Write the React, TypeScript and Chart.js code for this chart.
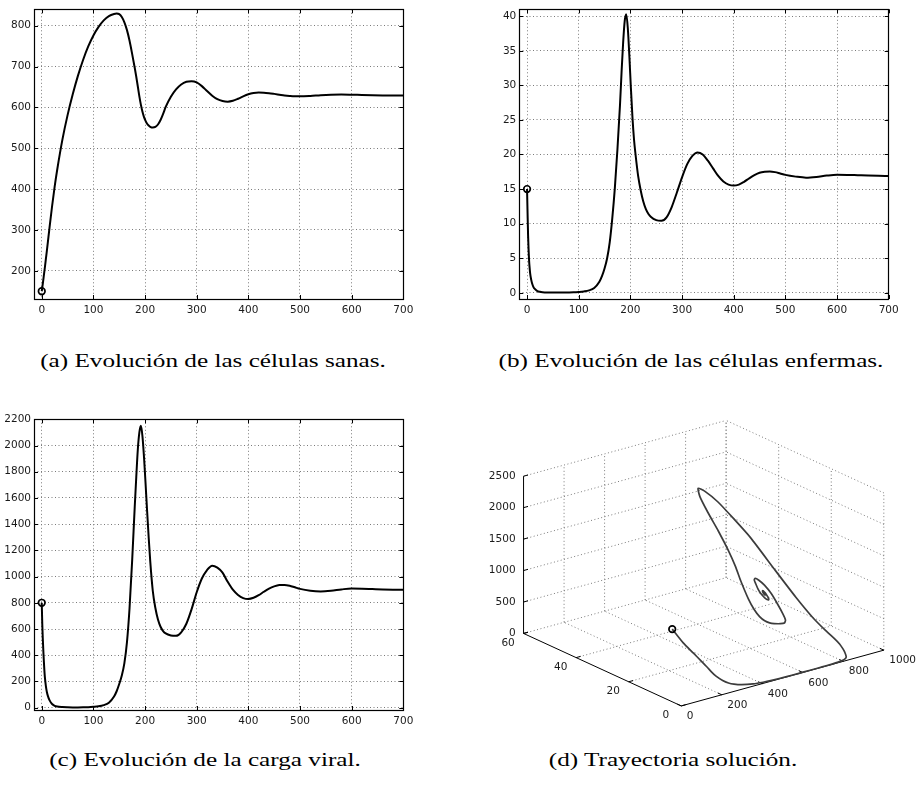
import React, { useEffect, useRef } from "react";
import { Chart, registerables } from "chart.js";

Chart.register(...registerables);

// ---------------- data ----------------
const TIME = [0,1,2,3,4,5,6,8,10,12,15,20,25,30,40,50,60,70,80,90,100,110,120,130,140,145,150,155,160,165,170,175,180,183,186,189,192,195,198,201,204,207,210,215,220,225,230,235,240,250,260,270,280,290,300,310,320,330,340,350,360,370,380,390,400,410,420,430,440,450,460,470,480,490,500,520,540,560,580,600,620,640,660,680,700];

const SANAS = [150,159,168,178,188,198,208,229,250,272,305,358,406,448,521,581,632,677,716,749,776,797,813,823.5,828.5,829.5,828,821,808,789,763,731,697,675,651,627,606,589,576,567,560,555.5,552.5,550.5,552,558,569,584,601,626,644,656,662.5,664,661,652,640,628.5,620,615.5,614,616,621,627,632,635,636.2,636,634.8,633,631,629,627.7,627,627,628,629.8,631,631.5,631,630.2,629.6,629.3,629.2,629.2];

const ENFERMAS = [15,11.5,8.3,6.2,4.6,3.6,2.8,1.9,1.3,0.9,0.55,0.25,0.14,0.09,0.05,0.04,0.04,0.04,0.05,0.07,0.12,0.2,0.35,0.7,1.6,2.4,3.5,5.0,7.3,10.8,15.2,20.8,27.3,32,36.2,39.3,40.3,38.3,34.3,29.6,25.4,22.2,20.0,16.9,14.8,13.2,12.1,11.4,10.95,10.5,10.4,10.9,12.4,14.5,16.7,18.6,19.8,20.3,20.0,19.1,18.0,16.9,16.1,15.65,15.5,15.65,16.05,16.55,17.0,17.35,17.5,17.55,17.45,17.25,17.05,16.8,16.65,16.75,16.95,17.07,17.05,17.0,16.95,16.92,16.9];

const CARGA = [800,640,530,440,360,290,235,165,118,88,57,28,14,8,4,2.5,2,2,2.5,3.5,6,10,19,38,85,125,180,245,340,500,760,1120,1530,1760,1970,2100,2150,2070,1910,1710,1500,1300,1120,890,760,672,617,584,566,551,548,575,640,750,880,985,1050,1083,1068,1030,960,900,860,836,829,838,858,884,908,925,935,936,930,918,906,892,887,892,902,909,908,905,902,900,899];

const X_TICKS = [0,100,200,300,400,500,600,700];
const Y_TICKS_A = [200,300,400,500,600,700,800];
const Y_TICKS_B = [0,5,10,15,20,25,30,35,40];
const Y_TICKS_C = [0,200,400,600,800,1000,1200,1400,1600,1800,2000,2200];

const S3_TICKS = [0,200,400,600,800,1000];
const I3_TICKS = [0,20,40,60];
const V3_TICKS = [0,500,1000,1500,2000,2500];

const CAPTIONS = [
  "(a) Evolución de las células sanas.",
  "(b) Evolución de las células enfermas.",
  "(c) Evolución de la carga viral.",
  "(d) Trayectoria solución.",
];

// ---------------- styles / layout ----------------
const TICK_FONT_FAMILY = "'DejaVu Sans', sans-serif";
const TICK_FONT_SIZE = 10.5;
const TICK_COLOR = "#1a1a1a";
const GRID_COLOR = "#7a7a7a";
const GRID_DASH = [1, 2.5];

function boxPlugin(xt: number[], yt: number[]) {
  return {
    id: "matlabBox",
    afterDatasetsDraw(chart: any) {
      const { ctx, chartArea: a, scales } = chart;
      ctx.save();
      ctx.strokeStyle = "#000";
      ctx.lineWidth = 1;
      ctx.beginPath();
      for (const v of xt) {
        const px = Math.round(scales.x.getPixelForValue(v)) + 0.5;
        ctx.moveTo(px, a.bottom);
        ctx.lineTo(px, a.bottom - 4);
        ctx.moveTo(px, a.top);
        ctx.lineTo(px, a.top + 4);
      }
      for (const v of yt) {
        const py = Math.round(scales.y.getPixelForValue(v)) + 0.5;
        ctx.moveTo(a.left, py);
        ctx.lineTo(a.left + 4, py);
        ctx.moveTo(a.right, py);
        ctx.lineTo(a.right - 4, py);
      }
      ctx.stroke();
      ctx.lineWidth = 1.2;
      ctx.strokeRect(Math.round(a.left) + 0.5, Math.round(a.top) + 0.5, Math.round(a.right - a.left), Math.round(a.bottom - a.top));
      ctx.restore();
    },
  };
}

type PanelProps = {
  values: number[];
  yMin: number;
  yMax: number;
  yTicks: number[];
  left: number;
  top: number;
  width: number;
  height: number;
  area: { left: number; top: number; right: number; bottom: number };
};

function LinePanel(p: PanelProps) {
  const ref = useRef<HTMLCanvasElement>(null);
  useEffect(() => {
    const xAxisH = 20;
    const chart = new Chart(ref.current as HTMLCanvasElement, {
      type: "line",
      data: {
        datasets: [
          {
            data: TIME.map((t, i) => ({ x: t, y: p.values[i] })),
            borderColor: "#000",
            borderWidth: 2,
            pointRadius: 0,
            cubicInterpolationMode: "monotone",
            fill: false,
          },
          {
            data: [{ x: TIME[0], y: p.values[0] }],
            showLine: false,
            pointRadius: 3.3,
            pointBorderWidth: 1.7,
            pointBorderColor: "#000",
            pointBackgroundColor: "rgba(255,255,255,0)",
          },
        ],
      } as any,
      options: {
        animation: false,
        responsive: false,
        maintainAspectRatio: false,
        devicePixelRatio: 1,
        layout: {
          padding: {
            left: 0,
            top: p.area.top,
            right: p.width - p.area.right,
            bottom: p.height - p.area.bottom - xAxisH,
          },
        },
        plugins: { legend: { display: false }, tooltip: { enabled: false } },
        scales: {
          x: {
            type: "linear",
            min: -15,
            max: 700,
            afterBuildTicks: (ax: any) => {
              ax.ticks = X_TICKS.map((v) => ({ value: v }));
            },
            afterFit: (s: any) => {
              s.height = xAxisH;
            },
            grid: { color: GRID_COLOR, lineWidth: 1, drawTicks: false },
            border: { display: false, dash: GRID_DASH },
            ticks: {
              color: TICK_COLOR,
              font: { family: TICK_FONT_FAMILY, size: TICK_FONT_SIZE },
              padding: 5,
              maxRotation: 0,
              autoSkip: false,
              callback: (v: any) => String(v),
            },
          },
          y: {
            type: "linear",
            min: p.yMin,
            max: p.yMax,
            afterBuildTicks: (ax: any) => {
              ax.ticks = p.yTicks.map((v) => ({ value: v }));
            },
            afterFit: (s: any) => {
              s.width = p.area.left;
            },
            grid: { color: GRID_COLOR, lineWidth: 1, drawTicks: false },
            border: { display: false, dash: GRID_DASH },
            ticks: {
              color: TICK_COLOR,
              font: { family: TICK_FONT_FAMILY, size: TICK_FONT_SIZE },
              padding: 3,
              autoSkip: false,
              callback: (v: any) => String(v),
            },
          },
        },
      } as any,
      plugins: [boxPlugin(X_TICKS, p.yTicks)],
    });
    return () => chart.destroy();
  }, []);
  return (
    <div style={{ position: "absolute", left: p.left, top: p.top, width: p.width, height: p.height }}>
      <canvas ref={ref} width={p.width} height={p.height} style={{ width: p.width, height: p.height, display: "block" }} />
    </div>
  );
}

// 3D projection (screen-space axis vectors of the MATLAB-style view)
const VIEW = { ox: 220, oy: 321, ex: [207.7, -57.7], ey: [-161.7, -75], ez: [0, -162.7] };
const S_MAX = S3_TICKS[S3_TICKS.length - 1];
const I_MAX = I3_TICKS[I3_TICKS.length - 1];
const V_MAX = V3_TICKS[V3_TICKS.length - 1];

function project(s: number, i: number, v: number) {
  const a = s / S_MAX, b = i / I_MAX, c = v / V_MAX;
  return {
    x: VIEW.ox + a * VIEW.ex[0] + b * VIEW.ey[0] + c * VIEW.ez[0],
    y: VIEW.oy + a * VIEW.ex[1] + b * VIEW.ey[1] + c * VIEW.ez[1],
  };
}

function seg(a: number[], b: number[], color: string, dash: number[], width: number, order: number) {
  return {
    data: [project(a[0], a[1], a[2]), project(b[0], b[1], b[2])],
    showLine: true,
    pointRadius: 0,
    borderColor: color,
    borderWidth: width,
    borderDash: dash,
    order,
  };
}

function Panel3D({ left, top, width, height }: { left: number; top: number; width: number; height: number }) {
  const ref = useRef<HTMLCanvasElement>(null);
  useEffect(() => {
    const grid: any[] = [];
    // floor z = 0
    for (const s of S3_TICKS) if (s !== 0) grid.push(seg([s, 0, 0], [s, I_MAX, 0], GRID_COLOR, GRID_DASH, 1, 3));
    for (const i of I3_TICKS) if (i !== 0) grid.push(seg([0, i, 0], [S_MAX, i, 0], GRID_COLOR, GRID_DASH, 1, 3));
    // back wall i = I_MAX
    for (const s of S3_TICKS) if (s !== 0) grid.push(seg([s, I_MAX, 0], [s, I_MAX, V_MAX], GRID_COLOR, GRID_DASH, 1, 3));
    for (const v of V3_TICKS) if (v !== 0) grid.push(seg([0, I_MAX, v], [S_MAX, I_MAX, v], GRID_COLOR, GRID_DASH, 1, 3));
    // right wall s = S_MAX
    for (const i of I3_TICKS) grid.push(seg([S_MAX, i, 0], [S_MAX, i, V_MAX], GRID_COLOR, GRID_DASH, 1, 3));
    for (const v of V3_TICKS) if (v !== 0) grid.push(seg([S_MAX, 0, v], [S_MAX, I_MAX, v], GRID_COLOR, GRID_DASH, 1, 3));
    // axes
    const axes: any[] = [
      seg([0, 0, 0], [S_MAX, 0, 0], "#000", [], 1, 2),
      seg([0, 0, 0], [0, I_MAX, 0], "#000", [], 1, 2),
      seg([0, I_MAX, 0], [0, I_MAX, V_MAX], "#000", [], 1, 2),
    ];
    for (const s of S3_TICKS) axes.push(seg([s, 0, 0], [s, I_MAX * 0.025, 0], "#000", [], 1, 2));
    for (const i of I3_TICKS) axes.push(seg([0, i, 0], [S_MAX * 0.022, i, 0], "#000", [], 1, 2));
    for (const v of V3_TICKS) axes.push(seg([0, I_MAX, v], [S_MAX * 0.022, I_MAX, v], "#000", [], 1, 2));

    const traj = {
      data: TIME.map((_, k) => project(SANAS[k], ENFERMAS[k], CARGA[k])),
      showLine: true,
      pointRadius: 0,
      borderColor: "#3c3c3c",
      borderWidth: 1.7,
      tension: 0.2,
      order: 1,
    };
    const start = {
      data: [project(SANAS[0], ENFERMAS[0], CARGA[0])],
      showLine: false,
      pointRadius: 3.3,
      pointBorderWidth: 1.7,
      pointBorderColor: "#000",
      pointBackgroundColor: "rgba(255,255,255,0)",
      order: 0,
    };

    const labels3d = {
      id: "labels3d",
      afterDraw(chart: any) {
        const { ctx, scales } = chart;
        const px = (p: { x: number; y: number }) => ({ x: scales.x.getPixelForValue(p.x), y: scales.y.getPixelForValue(p.y) });
        ctx.save();
        ctx.fillStyle = TICK_COLOR;
        ctx.font = `${TICK_FONT_SIZE}px ${TICK_FONT_FAMILY}`;
        ctx.textBaseline = "middle";
        ctx.textAlign = "right";
        for (const v of V3_TICKS) {
          const q = px(project(0, I_MAX, v));
          ctx.fillText(String(v), q.x - 8, q.y);
        }
        ctx.textAlign = "center";
        for (const i of I3_TICKS) {
          const q = px(project(0, i, 0));
          ctx.fillText(String(i), q.x - 15.5, q.y + 9.5);
        }
        ctx.textAlign = "left";
        for (const s of S3_TICKS) {
          const q = px(project(s, 0, 0));
          ctx.fillText(String(s), q.x + 5.5, q.y + 10.3);
        }
        ctx.restore();
      },
    };

    const chart = new Chart(ref.current as HTMLCanvasElement, {
      type: "scatter",
      data: { datasets: [start, traj, ...axes, ...grid] } as any,
      options: {
        animation: false,
        responsive: false,
        maintainAspectRatio: false,
        devicePixelRatio: 1,
        layout: { padding: 0 },
        plugins: { legend: { display: false }, tooltip: { enabled: false } },
        scales: {
          x: { type: "linear", min: 0, max: width, display: false },
          y: { type: "linear", min: 0, max: height, reverse: true, display: false },
        },
      } as any,
      plugins: [labels3d],
    });
    return () => chart.destroy();
  }, []);
  return (
    <div style={{ position: "absolute", left, top, width, height }}>
      <canvas ref={ref} width={width} height={height} style={{ width, height, display: "block" }} />
    </div>
  );
}

function Caption({ text, cx, cy }: { text: string; cx: number; cy: number }) {
  return (
    <div
      style={{
        position: "absolute",
        left: cx,
        top: cy - 11,
        height: 22,
        lineHeight: "22px",
        transform: "translateX(-50%) scaleX(1.4)",
        transformOrigin: "50% 50%",
        fontFamily: "'Liberation Serif', 'DejaVu Serif', serif",
        fontSize: 18,
        color: "#000",
        whiteSpace: "nowrap",
      }}
    >
      {text}
    </div>
  );
}

export default function App() {
  return (
    <div style={{ position: "absolute", left: 0, top: 0, width: 922, height: 790, background: "#fff", overflow: "hidden" }}>
      <LinePanel values={SANAS} yMin={131} yMax={840} yTicks={Y_TICKS_A} left={0} top={0} width={461} height={330}
        area={{ left: 34, top: 8.3, right: 403.3, bottom: 299 }} />
      <LinePanel values={ENFERMAS} yMin={-0.9} yMax={41} yTicks={Y_TICKS_B} left={461} top={0} width={461} height={330}
        area={{ left: 58.3, top: 8.3, right: 427.7, bottom: 299 }} />
      <LinePanel values={CARGA} yMin={-18} yMax={2200} yTicks={Y_TICKS_C} left={0} top={390} width={461} height={340}
        area={{ left: 34, top: 29.3, right: 403.3, bottom: 320 }} />
      <Panel3D left={461} top={390} width={461} height={340} />
      <Caption text={CAPTIONS[0]} cx={213} cy={361} />
      <Caption text={CAPTIONS[1]} cx={691} cy={361} />
      <Caption text={CAPTIONS[2]} cx={205} cy={760} />
      <Caption text={CAPTIONS[3]} cx={673} cy={760} />
    </div>
  );
}
